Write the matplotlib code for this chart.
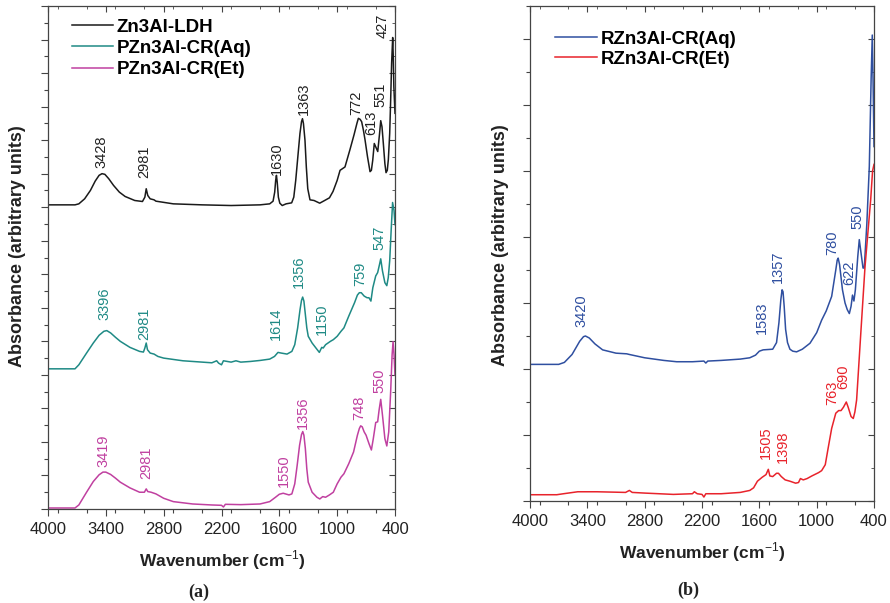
import matplotlib
matplotlib.use("Agg")
import matplotlib.pyplot as plt
from matplotlib.ticker import MultipleLocator

plt.rcParams["font.family"] = ["Liberation Sans", "DejaVu Sans"]
plt.rcParams["mathtext.fontset"] = "custom"
plt.rcParams["mathtext.rm"] = "Liberation Sans"
plt.rcParams["mathtext.bf"] = "Liberation Sans:bold"

# ---- panel (a) spectra: wavenumber (cm-1) and offset absorbance ----
ldh_wn = [4000, 3720, 3680, 3620, 3560, 3510, 3470, 3440, 3410, 3370, 3320, 3260, 3200,
          3100, 3020, 2995, 2981, 2965, 2940, 2900, 2880, 2700, 2400, 2100, 1800, 1700,
          1665, 1648, 1638, 1630, 1622, 1610, 1595, 1570, 1530, 1472, 1450, 1430, 1405,
          1386, 1370, 1360, 1350, 1334, 1320, 1305, 1282, 1240, 1181, 1130, 1080, 1043,
          1000, 970, 919, 867, 825, 795, 780, 762, 746, 728, 711, 685, 659, 645, 631, 615,
          600, 579, 560, 548, 535, 521, 505, 493, 480, 469, 455, 445, 435, 424, 418, 412,
          400]
ldh_ab = [9.07, 9.07, 9.1, 9.25, 9.5, 9.78, 9.95, 10.0, 9.98, 9.85, 9.65, 9.45, 9.32,
          9.2, 9.17, 9.3, 9.55, 9.35, 9.25, 9.22, 9.18, 9.1, 9.07, 9.05, 9.07, 9.1,
          9.18, 9.45, 9.8, 9.95, 9.75, 9.3, 9.12, 9.05, 9.1, 9.13, 9.3, 9.8, 10.6,
          11.2, 11.55, 11.64, 11.5, 11.0, 10.2, 9.55, 9.22, 9.2, 9.12, 9.2, 9.28, 9.47,
          9.8, 10.1, 10.2, 10.72, 11.16, 11.5, 11.65, 11.62, 11.55, 11.3, 11.01, 10.5,
          10.06, 10.1, 10.4, 10.9, 10.8, 10.66, 11.2, 11.58, 11.4, 10.9, 10.3, 10.03,
          10.1, 10.42, 11.2, 12.2, 13.3, 14.06, 13.5, 12.6, 11.8]

paq_wn = [4000, 3720, 3680, 3600, 3530, 3470, 3420, 3390, 3350, 3300, 3250, 3150, 3050,
          3010, 2995, 2981, 2968, 2940, 2900, 2860, 2800, 2600, 2400, 2300, 2250, 2230,
          2200, 2180, 2100, 2050, 2000, 1900, 1800, 1700, 1650, 1614, 1580, 1520, 1470,
          1440, 1410, 1385, 1370, 1358, 1345, 1330, 1315, 1300, 1260, 1220, 1185, 1160,
          1145, 1120, 1070, 1040, 1000, 960, 930, 880, 820, 790, 770, 750, 720, 690, 670,
          650, 630, 600, 580, 560, 548, 530, 505, 485, 470, 455, 440, 425, 410, 400]
paq_ab = [4.18, 4.18, 4.3, 4.65, 4.95, 5.18, 5.3, 5.32, 5.25, 5.12, 5.0, 4.82, 4.7,
          4.68, 4.8, 4.95, 4.75, 4.65, 4.62, 4.55, 4.5, 4.42, 4.38, 4.36, 4.42, 4.35,
          4.3, 4.42, 4.38, 4.42, 4.38, 4.4, 4.43, 4.47, 4.55, 4.67, 4.65, 4.62, 4.7,
          4.9, 5.4, 5.95, 6.22, 6.32, 6.2, 5.8, 5.4, 5.15, 4.95, 4.8, 4.67, 4.82,
          4.8, 4.9, 5.0, 5.05, 5.15, 5.3, 5.4, 5.75, 6.15, 6.38, 6.45, 6.45, 6.35, 6.3,
          6.3, 6.2, 6.6, 6.95, 7.05, 7.3, 7.46, 7.1, 6.75, 6.66, 6.9, 7.4, 8.3, 9.14,
          8.9, 8.48]

pet_wn = [4000, 3720, 3680, 3600, 3530, 3470, 3430, 3400, 3350, 3300, 3250, 3150, 3050,
          3000, 2981, 2965, 2930, 2880, 2800, 2700, 2500, 2300, 2200, 2180, 2160, 2000,
          1800, 1700, 1640, 1600, 1560, 1500, 1470, 1440, 1415, 1390, 1370, 1357, 1345,
          1330, 1315, 1300, 1260, 1210, 1180, 1150, 1120, 1080, 1040, 1000, 960, 930, 880,
          830, 790, 770, 756, 740, 720, 700, 670, 645, 625, 600, 580, 565, 548, 530, 505,
          485, 465, 445, 430, 420, 410, 400]
pet_ab = [0.03, 0.03, 0.12, 0.5, 0.82, 1.02, 1.1, 1.1, 1.03, 0.92, 0.8, 0.63, 0.5,
          0.5, 0.6, 0.52, 0.5, 0.45, 0.32, 0.22, 0.15, 0.12, 0.11, 0.06, 0.14, 0.13,
          0.15, 0.22, 0.35, 0.44, 0.47, 0.42, 0.45, 0.75, 1.3, 1.9, 2.22, 2.31, 2.2,
          1.8, 1.2, 0.8, 0.5, 0.35, 0.3, 0.37, 0.35, 0.42, 0.5, 0.75, 0.95, 1.05, 1.35,
          1.7, 2.2, 2.4, 2.48, 2.45, 2.3, 2.2, 1.95, 1.76, 2.1, 2.58, 2.6, 2.95, 3.27,
          2.8, 2.1, 1.88, 2.3, 3.5, 4.6, 4.99, 4.6, 4.0]

# ---- panel (b) spectra ----
raq_wn = [4000, 3700, 3640, 3560, 3480, 3440, 3420, 3380, 3320, 3240, 3100, 2988, 2960,
          2800, 2600, 2465, 2300, 2180, 2160, 2140, 2000, 1800, 1700, 1640, 1600, 1560,
          1460, 1420, 1395, 1375, 1362, 1352, 1340, 1325, 1305, 1280, 1250, 1210, 1150,
          1070, 1000, 948, 900, 843, 800, 785, 775, 760, 730, 703, 680, 658, 640, 625,
          610, 595, 570, 554, 535, 515, 502, 475, 449, 430, 418, 410, 400]
raq_ab = [2.07, 2.07, 2.1, 2.22, 2.42, 2.49, 2.5, 2.47, 2.38, 2.29, 2.24, 2.23, 2.22,
          2.17, 2.13, 2.11, 2.11, 2.12, 2.09, 2.12, 2.13, 2.15, 2.17, 2.21, 2.27, 2.29,
          2.3, 2.4, 2.7, 3.05, 3.2, 3.17, 2.95, 2.6, 2.4, 2.3, 2.27, 2.26, 2.3,
          2.39, 2.55, 2.74, 2.88, 3.1, 3.5, 3.65, 3.68, 3.58, 3.2, 3.0, 2.9, 2.84, 2.95,
          3.12, 3.03, 3.2, 3.7, 3.96, 3.75, 3.53, 3.53, 4.2, 5.07, 6.4, 7.06, 6.4, 5.37]

ret_wn = [4000, 3720, 3650, 3500, 3300, 3000, 2960, 2930, 2800, 2500, 2300, 2280, 2250,
          2200, 2180, 2160, 2000, 1800, 1700, 1660, 1620, 1570, 1530, 1506, 1490, 1460,
          1420, 1400, 1370, 1330, 1280, 1220, 1190, 1170, 1140, 1100, 1050, 980, 948,
          910, 880, 843, 800, 770, 745, 720, 690, 670, 640, 617, 600, 582, 540, 494,
          435, 415, 400]
ret_ab = [0.095, 0.095, 0.11, 0.14, 0.14, 0.13, 0.16, 0.13, 0.12, 0.1, 0.11, 0.14, 0.11,
          0.1, 0.06, 0.11, 0.11, 0.13, 0.16, 0.2, 0.3, 0.36, 0.4, 0.48, 0.38, 0.37,
          0.42, 0.42, 0.37, 0.32, 0.3, 0.27, 0.28, 0.34, 0.32, 0.34, 0.38, 0.43, 0.46,
          0.55, 0.8, 1.1, 1.33, 1.37, 1.37, 1.42, 1.5, 1.42, 1.28, 1.25, 1.35, 1.53, 2.5,
          3.55, 4.56, 5.0, 5.1]

# peak labels: (text, wavenumber position, height of text base)
ldh_peaks = [("3428", 3443, 10.18), ("2981", 3004, 9.88), ("1630", 1621, 9.97),
             ("1363", 1344, 11.76), ("772", 804, 11.76), ("613", 649, 11.16),
             ("551", 556, 12.0), ("427", 532, 14.05)]
paq_peaks = [("3396", 3419, 5.64), ("2981", 3004, 5.04), ("1614", 1634, 5.04),
             ("1356", 1393, 6.59), ("1150", 1156, 5.19), ("759", 763, 6.64),
             ("547", 563, 7.73)]
pet_peaks = [("3419", 3426, 1.26), ("2981", 2976, 0.89), ("1550", 1551, 0.65),
             ("1356", 1358, 2.38), ("748", 770, 2.64), ("550", 563, 3.47)]
raq_peaks = [("3420", 3459, 2.64), ("1583", 1575, 2.53), ("1357", 1401, 3.30),
             ("780", 832, 3.73), ("622", 658, 3.27), ("550", 575, 4.12)]
ret_peaks = [("1505", 1530, 0.63), ("1398", 1349, 0.58), ("763", 832, 1.45),
             ("690", 721, 1.69)]

x_ticks = [4000, 3400, 2800, 2200, 1600, 1000, 400]

BLACK = "#1a1a1a"
TEAL = "#1f8a85"
MAGENTA = "#c040a0"
BLUE = "#2f4fa0"
RED = "#e8232b"


def style_axes(ax, ymax, ymajor):
    ax.set_xlim(4000, 400)
    ax.set_ylim(0, ymax)
    ax.set_xticks(x_ticks)
    ax.set_xticklabels([str(t) for t in x_ticks], fontsize=12, color="#222222")
    ax.xaxis.set_minor_locator(MultipleLocator(300))
    ax.yaxis.set_major_locator(MultipleLocator(ymajor))
    ax.yaxis.set_minor_locator(MultipleLocator(ymajor / 2))
    ax.tick_params(axis="y", which="both", labelleft=False, direction="out",
                   color="#444444")
    ax.tick_params(axis="y", which="major", length=5, width=0.8)
    ax.tick_params(axis="y", which="minor", length=3, width=0.8)
    ax.tick_params(axis="x", which="major", length=5, width=0.8, pad=4,
                   direction="out", color="#444444")
    ax.tick_params(axis="x", which="minor", length=3, width=0.8,
                   direction="out", color="#444444")
    for side in ("top", "right", "bottom", "left"):
        ax.spines[side].set_color("#444444")
        ax.spines[side].set_linewidth(0.9)
    # mirrored inner ticks on top / right
    sx = ax.secondary_xaxis("top")
    sx.set_xticks(x_ticks)
    sx.xaxis.set_minor_locator(MultipleLocator(300))
    sx.tick_params(which="both", direction="in", labeltop=False, color="#444444")
    sx.tick_params(which="major", length=4)
    sx.tick_params(which="minor", length=2)
    sx.spines["top"].set_visible(False)
    sy = ax.secondary_yaxis("right")
    sy.yaxis.set_major_locator(MultipleLocator(ymajor))
    sy.yaxis.set_minor_locator(MultipleLocator(ymajor / 2))
    sy.tick_params(which="both", direction="in", labelright=False, color="#444444")
    sy.tick_params(which="major", length=4)
    sy.tick_params(which="minor", length=2)
    sy.spines["right"].set_visible(False)


def add_peaks(ax, peaks, color):
    for txt, wn, h in peaks:
        ax.text(wn, h, txt, rotation=90, ha="center", va="bottom",
                fontsize=10.5, color=color)


def main() -> None:
    fig = plt.figure(figsize=(8.9, 6.03), dpi=100)
    ax1 = fig.add_axes([48 / 890, 1 - 509 / 603, 347 / 890, 503 / 603])
    ax2 = fig.add_axes([530 / 890, 1 - 501 / 603, 344 / 890, 495 / 603])

    ax1.plot(ldh_wn, ldh_ab, color=BLACK, lw=1.1, label="Zn3Al-LDH")
    ax1.plot(paq_wn, paq_ab, color=TEAL, lw=1.1, label="PZn3Al-CR(Aq)")
    ax1.plot(pet_wn, pet_ab, color=MAGENTA, lw=1.1, label="PZn3Al-CR(Et)")
    style_axes(ax1, 15, 1)
    add_peaks(ax1, ldh_peaks, "#222222")
    add_peaks(ax1, paq_peaks, TEAL)
    add_peaks(ax1, pet_peaks, MAGENTA)
    ax1.legend(loc="upper left", bbox_to_anchor=(0.025, 1.005), frameon=False,
               prop={"weight": "bold", "size": 13.5}, handlelength=2.2,
               handletextpad=0.2, labelspacing=0.22, borderaxespad=0.4)

    ax2.plot(raq_wn, raq_ab, color=BLUE, lw=1.1, label="RZn3Al-CR(Aq)")
    ax2.plot(ret_wn, ret_ab, color=RED, lw=1.1, label="RZn3Al-CR(Et)")
    style_axes(ax2, 7.5, 1)
    add_peaks(ax2, raq_peaks, BLUE)
    add_peaks(ax2, ret_peaks, RED)
    ax2.legend(loc="upper left", bbox_to_anchor=(0.03, 0.98), frameon=False,
               prop={"weight": "bold", "size": 13.5}, handlelength=2.2,
               handletextpad=0.2, labelspacing=0.15, borderaxespad=0.4)

    xlab = "Wavenumber (cm$^{-1}$)"
    ylab = "Absorbance (arbitrary units)"
    fig.text(222 / 890, 1 - 560 / 603, xlab, ha="center", va="center",
             fontsize=12.5, fontweight="bold", color="#222222")
    fig.text(702 / 890, 1 - 552 / 603, xlab, ha="center", va="center",
             fontsize=12.5, fontweight="bold", color="#222222")
    fig.text(18 / 890, 1 - 246 / 603, ylab, ha="center", va="center",
             rotation=90, fontsize=13, fontweight="bold", color="#222222")
    fig.text(500 / 890, 1 - 245 / 603, ylab, ha="center", va="center",
             rotation=90, fontsize=13, fontweight="bold", color="#222222")
    fig.text(199 / 890, 1 - 592 / 603, "(a)", ha="center", va="center",
             fontsize=13, fontweight="bold", family="Liberation Serif",
             color="#222222")
    fig.text(688 / 890, 1 - 590 / 603, "(b)", ha="center", va="center",
             fontsize=13, fontweight="bold", family="Liberation Serif",
             color="#222222")

    fig.savefig("out.png", dpi=100)


if __name__ == "__main__":
    main()
